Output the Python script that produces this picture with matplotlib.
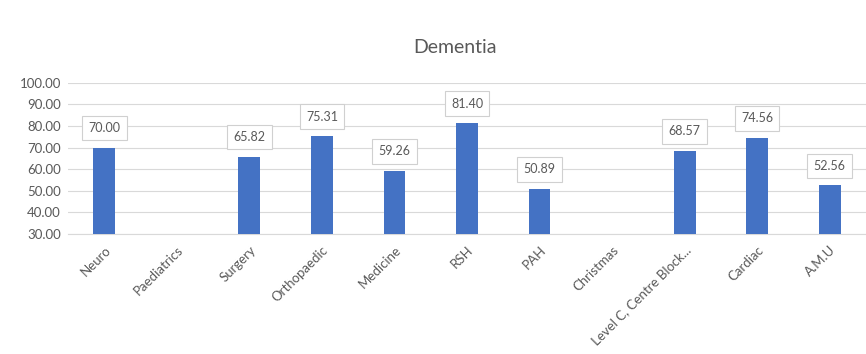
import numpy as np
import matplotlib.pyplot as plt

plt.rcParams['font.family'] = ['Lato', 'DejaVu Sans']

# Dementia scores per ward (None = no data)
wards = ['Neuro', 'Paediatrics', 'Surgery', 'Orthopaedic', 'Medicine', 'RSH',
         'PAH', 'Christmas', 'Level C, Centre Block...', 'Cardiac', 'A.M.U']
scores = [70.00, None, 65.82, 75.31, 59.26, 81.40, 50.89, None, 68.57, 74.56, 52.56]
y_ticks = [30, 40, 50, 60, 70, 80, 90, 100]

bar_color = '#4472C4'
text_color = '#595959'
grid_color = '#d9d9d9'

fig = plt.figure(figsize=(8.66, 3.54), dpi=100)
ax = fig.add_axes([0.0785, 0.339, 0.9215, 0.427])

x = np.arange(len(wards))
vals = np.array([np.nan if v is None else v for v in scores])
ax.bar(x, vals - 30, bottom=30, width=0.3, color=bar_color, zorder=3)

for xi, v in zip(x, scores):
    if v is None:
        continue
    ax.annotate(f'{v:.2f}', (xi, v), xytext=(0, 14), textcoords='offset points',
                ha='center', va='center', fontsize=9, color=text_color,
                bbox=dict(boxstyle='square,pad=0.5', fc='white', ec='#d0d0d0', lw=0.8),
                zorder=4)

ax.set_xlim(-0.5, len(wards) - 0.5)
ax.set_ylim(30, 100)
ax.set_yticks(y_ticks)
ax.set_yticklabels([f'{t:.2f}' for t in y_ticks])
ax.set_xticks(x)
ax.set_xticklabels(wards, rotation=45, ha='right', rotation_mode='anchor')
ax.tick_params(axis='both', length=0, colors=text_color)
ax.tick_params(axis='x', pad=7, labelsize=9.5)
ax.tick_params(axis='y', pad=5, labelsize=9.5)

ax.grid(axis='y', color=grid_color, lw=0.8, zorder=0)
for side in ['top', 'right', 'left']:
    ax.spines[side].set_visible(False)
ax.spines['bottom'].set_color(grid_color)

fig.text(0.525, 0.865, 'Dementia', ha='center', va='center', fontsize=14, color=text_color)

fig.savefig('out.png', dpi=100)
